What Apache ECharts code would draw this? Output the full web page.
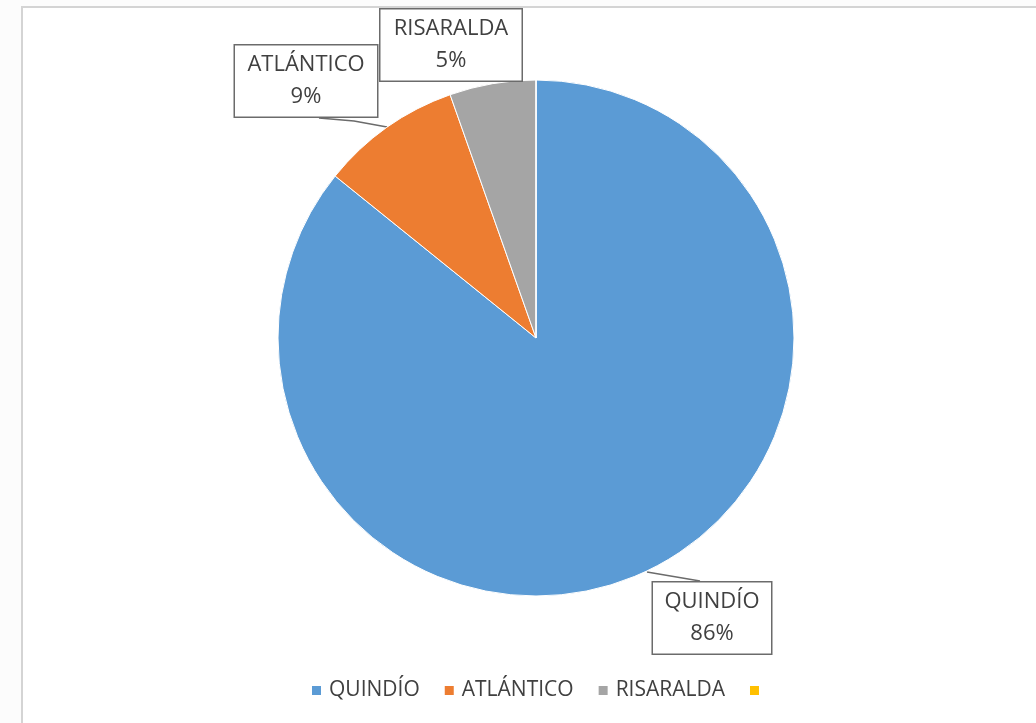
<!DOCTYPE html>
<html>
<head>
<meta charset="utf-8">
<script src="https://cdn.jsdelivr.net/npm/echarts@6/dist/echarts.min.js"></script>
<style>
html,body{margin:0;padding:0;background:#fcfcfc;}
#chart{width:1036px;height:723px;}
</style>
</head>
<body>
<div id="chart"></div>
<script>
var categories = ['QUINDÍO', 'ATLÁNTICO', 'RISARALDA', ' '];
var values = [85.8, 8.8, 5.4, 0];
var colors = ['#5B9BD5', '#ED7D31', '#A5A5A5', '#FFC000'];

var labelPos = [
  {x: 712, y: 618, w: 110, line: [[647, 572], [700, 581]]},
  {x: 306, y: 81, w: 134, line: [[387, 127], [354, 121], [319, 118]]},
  {x: 451, y: 45, w: 133, line: null}
];

var chart = echarts.init(document.getElementById('chart'));
var font = '"Open Sans", "Liberation Sans", sans-serif';

var data = categories.map(function (c, i) {
  var item = {name: c, value: values[i], itemStyle: {color: colors[i]}};
  if (i === 3) {
    item.label = {show: false};
    item.labelLine = {show: false};
  } else {
    item.label = {width: labelPos[i].w};
    item.labelLine = {show: !!labelPos[i].line};
  }
  return item;
});

chart.setOption({
  animation: false,
  graphic: [{
    type: 'rect',
    shape: {x: 22, y: 7, width: 1040, height: 740},
    style: {fill: '#ffffff', stroke: '#d4d4d4', lineWidth: 2},
    z: -10
  }],
  legend: {
    bottom: 17,
    left: 305,
    itemWidth: 11,
    itemHeight: 11,
    itemGap: 23,
    icon: 'rect',
    textStyle: {fontSize: 21, color: '#404040', fontFamily: font, padding: [0, 0, 0, 2]},
    data: categories
  },
  series: [{
    type: 'pie',
    center: [536, 338],
    radius: [0, 258],
    startAngle: 90,
    clockwise: true,
    data: data,
    itemStyle: {borderColor: '#ffffff', borderWidth: 1},
    label: {
      show: true,
      formatter: function (p) { return p.name + '\n' + Math.round(p.percent) + '%'; },
      fontSize: 22,
      lineHeight: 32,
      color: '#404040',
      fontFamily: font,
      backgroundColor: '#ffffff',
      borderColor: '#6b6b6b',
      borderWidth: 1.5,
      padding: [4, 4, 3, 4],
      align: 'center'
    },
    labelLine: {
      show: true,
      length: 10,
      length2: 10,
      lineStyle: {color: '#6b6b6b', width: 1.5}
    },
    labelLayout: function (p) {
      var lp = labelPos[p.dataIndex];
      if (!lp) return {};
      var r = {x: lp.x, y: lp.y, align: 'center', verticalAlign: 'middle', moveOverlap: null};
      if (lp.line) r.labelLinePoints = lp.line;
      return r;
    }
  }]
});
</script>
</body>
</html>
